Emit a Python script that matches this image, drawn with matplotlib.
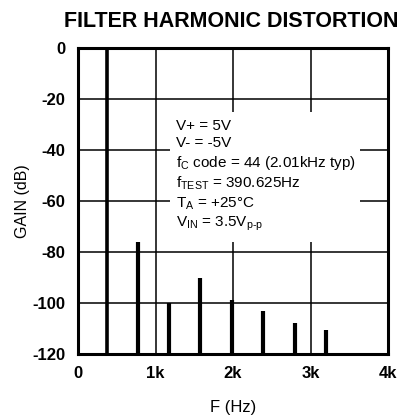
import matplotlib
matplotlib.use("Agg")
import matplotlib.pyplot as plt
from matplotlib.patches import Rectangle

# Data
freqs_hz = [380, 780, 1180, 1580, 1985, 2385, 2795, 3195]
gain_db = [0, -76, -100, -90, -99, -103, -108, -110.5]
x_ticks = [0, 1000, 2000, 3000, 4000]
x_ticklabels = ["0", "1k", "2k", "3k", "4k"]
y_ticks = [0, -20, -40, -60, -80, -100, -120]
y_ticklabels = ["0", "-20", "-40", "-60", "-80", "-100", "-120"]
notes = [
    r"V+ = 5V",
    r"V- = -5V",
    r"f$_\mathregular{C}$ code = 44 (2.01kHz typ)",
    r"f$_\mathregular{TEST}$ = 390.625Hz",
    r"T$_\mathregular{A}$ = +25°C",
    r"V$_\mathregular{IN}$ = 3.5V$_\mathregular{p\text{-}p}$",
]

FAM = ["Liberation Sans", "DejaVu Sans"]
plt.rcParams["font.family"] = FAM
plt.rcParams["mathtext.fontset"] = "custom"
plt.rcParams["mathtext.rm"] = "Liberation Sans"
plt.rcParams["mathtext.it"] = "Liberation Sans"

fig = plt.figure(figsize=(4.07, 4.20), dpi=100)
ax = fig.add_axes([78 / 407, 1 - 354 / 420, 310 / 407, 306 / 420])

ax.set_xlim(0, 4000)
ax.set_ylim(-120, 0)

# grid
for x in x_ticks[1:-1]:
    ax.axvline(x, color="black", lw=1.1, zorder=1)
for y in y_ticks[1:-1]:
    ax.axhline(y, color="black", lw=1.1, zorder=1)

# white box behind notes
ax.add_patch(Rectangle((1190, -76), 3640 - 1190, 51, facecolor="white",
                       edgecolor="none", zorder=2))

# bars
for i, (f, g) in enumerate(zip(freqs_hz, gain_db)):
    ax.vlines(f, -120, g, color="black", lw=3.0 if i else 2.6, zorder=3)

ax.text(1270, -28, "\n".join(notes), fontsize=11.0, va="top", ha="left",
        linespacing=1.26, zorder=4)

for s in ax.spines.values():
    s.set_linewidth(2.2)
    s.set_zorder(5)

ax.set_xticks(x_ticks)
ax.set_xticklabels(x_ticklabels)
ax.set_yticks(y_ticks)
ax.set_yticklabels(y_ticklabels)
ax.tick_params(length=0, labelsize=12, pad=9)
for lab in ax.get_xticklabels() + ax.get_yticklabels():
    lab.set_fontweight("bold")

ax.set_xlabel("F (Hz)", fontsize=12, labelpad=13)
ax.set_ylabel("GAIN (dB)", fontsize=11.5, labelpad=2)

fig.text(0.567, 0.948, "FILTER HARMONIC DISTORTION", fontsize=15.5,
         fontweight="bold", family=["Liberation Sans", "DejaVu Sans"],
         ha="center", va="center")

fig.savefig("out.png", dpi=100)
